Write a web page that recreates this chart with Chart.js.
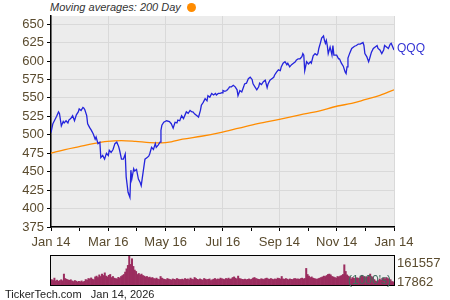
<!DOCTYPE html>
<html>
<head>
<meta charset="utf-8">
<title>QQQ</title>
<script src="https://cdn.jsdelivr.net/npm/chart.js@4.4.1/dist/chart.umd.min.js"></script>
<style>
    body { margin: 0; background: #fff; font-family: "Liberation Sans", Arial, sans-serif; }
    #wrap { position: relative; width: 450px; height: 300px; overflow: hidden; }
    #wrap canvas { position: absolute; left: 0; }
    .txt { position: absolute; white-space: nowrap; }
    #title { left: 50px; top: 0; font-size: 11px; line-height: 15px; font-style: italic; color: #333; }
    #dot { left: 187px; top: 3px; width: 9px; height: 9px; border-radius: 50%; background: #ff8c00; }
    .vlab { left: 397px; font-size: 13px; line-height: 15px; color: #5a4b2e; }
    #units { left: 348px; top: 273px; font-size: 12px; line-height: 15px; color: #3f6e5e; }
    #footer { left: 5px; top: 287px; font-size: 11px; line-height: 14px; color: #222; }
</style>
</head>
<body>
<div id="wrap">
    <div id="title" class="txt">Moving averages: 200 Day</div>
    <div id="dot" class="txt"></div>
    <canvas id="priceChart" width="450" height="250" style="top:0"></canvas>
    <canvas id="volChart" width="450" height="40" style="top:250px"></canvas>
    <div class="txt vlab" style="top:255px">161557</div>
    <div class="txt vlab" style="top:274px">17862</div>
    <div id="units" class="txt">(1000's)</div>
    <div id="footer" class="txt">TickerTech.com&nbsp;&nbsp; Jan 14, 2026</div>
</div>
<script>
// x axis: days since Jan 14, 2025
const tickDays = [0, 61, 122, 183, 243, 304, 365];
const tickLabels = ['Jan 14', 'Mar 16', 'May 16', 'Jul 16', 'Sep 14', 'Nov 14', 'Jan 14'];
const priceTicks = [375, 400, 425, 450, 475, 500, 525, 550, 575, 600, 625, 650];

// QQQ close
const priceDay = [0, 2, 4, 6, 8, 9, 11, 13, 14, 16, 18, 19, 21, 23, 25, 27, 29, 30, 32, 34, 35, 36, 38, 39, 41, 43, 45, 47, 48, 50,
    52, 53, 55, 57, 59, 61, 62, 64, 66, 68, 70, 72, 73, 75, 77, 79, 80, 82, 83, 84, 85, 86, 88, 89, 91, 93, 95, 96, 98, 100,
    102, 104, 105, 107, 109, 111, 112, 114, 116, 117, 118, 120, 123, 126, 128, 130, 132, 134, 135, 137, 139, 141, 143, 144, 146, 148, 150, 151, 153, 155,
    157, 159, 160, 162, 164, 166, 167, 169, 171, 173, 175, 176, 178, 180, 182, 183, 185, 187, 189, 190, 192, 194, 196, 198, 199, 201, 203, 205, 206, 208,
    210, 212, 214, 215, 217, 219, 221, 222, 224, 226, 228, 230, 231, 233, 235, 237, 238, 240, 242, 244, 245, 247, 249, 251, 252, 254, 256, 258, 260, 261,
    263, 265, 267, 268, 269, 270, 272, 274, 276, 277, 279, 281, 283, 284, 285, 287, 288, 290, 291, 292, 293, 294, 295, 297, 299, 300, 301, 304, 306, 307,
    309, 311, 313, 314, 315, 316, 318, 320, 322, 323, 325, 327, 329, 332, 333, 334, 336, 338, 339, 341, 343, 345, 347, 348, 350, 352, 354, 355, 357, 359,
    361, 362, 363, 365];
const priceClose = [503, 515, 520, 525, 531, 529, 512, 518, 516, 519, 516, 520, 522, 526, 519, 527, 531, 535, 533, 537, 536, 534, 526, 515, 510, 506, 501, 494, 497, 488,
    490, 469, 472, 467, 475, 472, 479, 476, 480, 488, 490, 484, 479, 467, 467, 474, 443, 422, 422, 415, 452, 440, 454, 451, 453, 440, 435, 431, 449, 467,
    469, 471, 474, 483, 480, 488, 483, 486, 490, 506, 513, 517, 519, 518, 515, 509, 517, 516, 520, 519, 526, 522, 528, 531, 529, 533, 531, 531, 528, 526,
    524, 533, 540, 544, 549, 546, 553, 551, 556, 554, 556, 554, 556, 556, 557, 560, 559, 560, 563, 565, 565, 567, 565, 561, 553, 560, 558, 565, 569, 570,
    576, 578, 575, 569, 565, 561, 565, 570, 568, 572, 574, 564, 569, 574, 576, 578, 581, 585, 588, 587, 592, 597, 599, 595, 597, 592, 595, 597, 599, 601,
    603, 603, 606, 610, 608, 587, 599, 596, 599, 597, 607, 610, 608, 610, 617, 626, 631, 634, 628, 624, 628, 621, 610, 619, 608, 621, 608, 608, 603, 603,
    597, 593, 585, 583, 592, 604, 611, 617, 619, 620, 621, 623, 623, 625, 621, 610, 606, 599, 603, 612, 617, 619, 621, 617, 615, 610, 615, 621, 619, 617,
    623, 624, 621, 615];

// 200 day moving average
const maDay = [0, 15, 30, 45, 60, 75, 90, 105, 118, 128, 140, 160, 180, 200, 220, 243, 265, 285, 305, 320, 335, 350, 365];
const maValue = [475, 480, 484, 488, 491, 492, 491, 489.5, 489, 490.5, 494, 498, 503, 509, 515, 521, 527, 532, 539, 542.5, 548, 553.5, 561];

// daily volume (1000's)
const volMin = 17862;
const volMax = 161557;
const volume = [
    45, 40, 52, 38, 42, 36, 40, 44, 39, 72, 50, 46, 43,
    41, 44, 38, 35, 40, 37, 33, 36, 34, 38, 32, 36, 45, 42, 50, 48, 53, 47, 44,
    58, 62, 55, 68, 60, 72, 65, 78, 62, 58, 66, 70, 55, 60, 52, 50, 48, 56, 52, 60, 65,
    70, 82, 98, 115, 161.5, 120, 148, 110, 92, 85, 70, 75, 68, 72, 65, 62, 58, 60, 55, 57, 52,
    55, 50, 48, 52, 47, 45, 60, 52, 48, 46, 44, 50, 47, 45, 43, 48, 46, 44, 50, 47, 45,
    45, 47, 44, 50, 46, 48, 44, 52, 47, 45, 55, 50, 46, 44, 48, 45, 42, 50, 47, 44,
    46, 48, 40, 44, 47, 50, 45, 48, 46, 52, 49, 47, 45, 50, 48, 52, 46, 49, 55, 58, 52, 48,
    62, 50, 48, 46, 45, 47, 44, 46, 48, 45, 47, 52, 55, 50, 48, 46, 45, 49, 47, 45, 50,
    52, 48, 46, 50, 47, 45, 48, 46, 52, 50, 48, 60, 48, 46, 50, 47, 44, 48, 46, 45, 49,
    50, 47, 48, 46, 50, 52, 48, 50, 100, 70, 62, 55, 58, 52, 50, 48, 46, 50, 52, 55, 58, 62, 60,
    65, 70, 72, 68, 60, 58, 55, 52, 60, 58, 62, 65, 70, 118, 85, 68, 62, 58, 48,
    55, 52, 50, 54, 52, 50, 62, 66, 58, 60, 55, 58, 65, 72, 60, 55, 45, 38, 35, 40, 48, 42,
    50, 52, 48, 55, 50, 46, 44, 35, 33
];

const tickColor = '#5a4b2e';
const gridColor = '#d9d9d9';

document.addEventListener('DOMContentLoaded', function() {
    Chart.defaults.font.family = '"Liberation Sans", Arial, sans-serif';
    Chart.defaults.font.size = 13;
    Chart.defaults.color = tickColor;

    // grey plot background
    const plotBg = {
        id: 'plotBg',
        beforeDraw(chart) {
            const a = chart.chartArea;
            chart.ctx.save();
            chart.ctx.fillStyle = '#ececec';
            chart.ctx.fillRect(a.left, a.top, a.right - a.left, a.bottom - a.top);
            chart.ctx.restore();
        }
    };

    // symbol name at the end of the price line
    const endLabel = {
        id: 'endLabel',
        afterDatasetsDraw(chart) {
            const pts = chart.getDatasetMeta(0).data;
            const last = pts[pts.length - 1];
            const ctx = chart.ctx;
            ctx.save();
            ctx.font = '12px "Liberation Sans", Arial, sans-serif';
            ctx.fillStyle = '#3434d4';
            ctx.textBaseline = 'middle';
            ctx.fillText('QQQ', last.x + 3, last.y - 1);
            ctx.restore();
        }
    };

    const minorX = [];
    for (let i = 0; i < tickDays.length - 1; i++) minorX.push((tickDays[i] + tickDays[i + 1]) / 2);
    const minorY = priceTicks.slice(0, -1).map(v => v + 12.5);

    new Chart(document.getElementById('priceChart'), {
        type: 'line',
        data: {
            datasets: [{
                label: 'QQQ',
                data: priceDay.map((d, i) => ({ x: d, y: priceClose[i] })),
                borderColor: '#2424dc',
                borderWidth: 1.3,
                pointRadius: 0,
                tension: 0
            }, {
                label: '200 Day',
                data: maDay.map((d, i) => ({ x: d, y: maValue[i] })),
                borderColor: '#ff8c00',
                borderWidth: 1.3,
                pointRadius: 0,
                cubicInterpolationMode: 'monotone'
            }]
        },
        options: {
            responsive: false,
            animation: false,
            devicePixelRatio: 1,
            layout: { padding: { left: 0, right: 56, top: 16, bottom: 0 } },
            plugins: {
                legend: { display: false },
                tooltip: { enabled: false }
            },
            scales: {
                x: {
                    type: 'linear',
                    min: 0,
                    max: 365,
                    afterFit(scale) { scale.height = 23; },
                    afterBuildTicks(scale) {
                        scale.ticks = tickDays.concat(minorX).sort((a, b) => a - b).map(v => ({ value: v }));
                    },
                    ticks: {
                        autoSkip: false,
                        maxRotation: 0,
                        padding: 4,
                        color: tickColor,
                        callback: function(value) {
                            const i = tickDays.indexOf(value);
                            return i >= 0 ? tickLabels[i] : '';
                        }
                    },
                    grid: {
                        color: ctx => tickDays.includes(ctx.tick.value) ? gridColor : 'rgba(0,0,0,0)',
                        tickColor: '#000',
                        tickLength: 4
                    },
                    border: { display: true, color: '#000', width: 1.5 }
                },
                y: {
                    min: 375,
                    max: 661,
                    afterFit(scale) { scale.width = 51; },
                    afterBuildTicks(scale) {
                        scale.ticks = priceTicks.concat(minorY).sort((a, b) => a - b).map(v => ({ value: v }));
                    },
                    ticks: {
                        padding: 3,
                        color: tickColor,
                        callback: function(value) {
                            return priceTicks.includes(value) ? String(value) : '';
                        }
                    },
                    grid: {
                        color: ctx => priceTicks.includes(ctx.tick.value) ? gridColor : 'rgba(0,0,0,0)',
                        tickColor: '#000',
                        tickLength: 4
                    },
                    border: { display: true, color: '#000', width: 1.5 }
                }
            }
        },
        plugins: [plotBg, endLabel]
    });

    // volume panel frame
    const volFrame = {
        id: 'volFrame',
        afterDraw(chart) {
            const a = chart.chartArea;
            chart.ctx.save();
            chart.ctx.strokeStyle = '#000';
            chart.ctx.lineWidth = 1;
            chart.ctx.strokeRect(a.left - 0.5, a.top - 0.5, a.right - a.left + 1, a.bottom - a.top + 1);
            chart.ctx.restore();
        }
    };

    new Chart(document.getElementById('volChart'), {
        type: 'bar',
        data: {
            labels: volume.map((v, i) => i),
            datasets: [{
                data: volume,
                backgroundColor: '#9b2d5f',
                borderWidth: 0,
                barPercentage: 1,
                categoryPercentage: 1
            }]
        },
        options: {
            responsive: false,
            animation: false,
            devicePixelRatio: 1,
            layout: { padding: { left: 51, right: 56, top: 6, bottom: 5 } },
            plugins: {
                legend: { display: false },
                tooltip: { enabled: false }
            },
            scales: {
                x: { display: false },
                y: { display: false, min: volMin / 1000, max: volMax / 1000 }
            }
        },
        plugins: [plotBg, volFrame]
    });
});
</script>
</body>
</html>
